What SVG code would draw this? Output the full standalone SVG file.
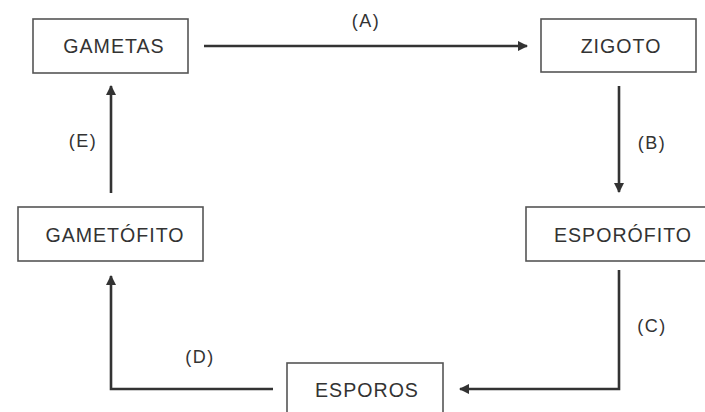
<svg xmlns="http://www.w3.org/2000/svg" width="705" height="412" viewBox="0 0 705 412">
<defs>
<style>
.box{fill:#fff;stroke:#555;stroke-width:1.6}
.t{font-family:"Liberation Sans",Arial,sans-serif;font-size:19.6px;fill:#333;text-anchor:middle;letter-spacing:1px}
.l{font-family:"Liberation Sans",Arial,sans-serif;font-size:18px;fill:#333;text-anchor:middle;letter-spacing:1.5px}
.c{fill:none;stroke:#333;stroke-width:2.6}
</style>
<marker id="ah" viewBox="0 0 10 10" refX="9" refY="5" markerWidth="4" markerHeight="4" orient="auto" markerUnits="strokeWidth">
<path d="M0,0 L10,5 L0,10 z" fill="#333"/>
</marker>
</defs>
<rect width="705" height="412" fill="#fff"/>
<g id="connectors">
<path class="c" d="M204,46 H527" marker-end="url(#ah)"/>
<path class="c" d="M619,86 V192" marker-end="url(#ah)"/>
<path class="c" d="M619,270 V389 H460" marker-end="url(#ah)"/>
<path class="c" d="M273,389 H111 V276" marker-end="url(#ah)"/>
<path class="c" d="M111,193 V86" marker-end="url(#ah)"/>
<text class="l" x="366" y="27">(A)</text>
<text class="l" x="652" y="149">(B)</text>
<text class="l" x="652" y="332">(C)</text>
<text class="l" x="200" y="363">(D)</text>
<text class="l" x="83" y="147">(E)</text>
</g>
<g id="gametas"><rect class="box" x="33" y="19" width="155" height="54"/><text class="t" x="114" y="53">GAMETAS</text></g>
<g id="zigoto"><rect class="box" x="541" y="19" width="155" height="53"/><text class="t" x="621" y="53">ZIGOTO</text></g>
<g id="esporofito"><rect class="box" x="526" y="207" width="180" height="54"/><text class="t" x="623" y="242">ESPORÓFITO</text></g>
<g id="gametofito"><rect class="box" x="18" y="207" width="185" height="54"/><text class="t" x="115" y="242">GAMETÓFITO</text></g>
<g id="esporos"><rect class="box" x="287" y="363" width="156" height="60"/><text class="t" x="367" y="397">ESPOROS</text></g>
</svg>
